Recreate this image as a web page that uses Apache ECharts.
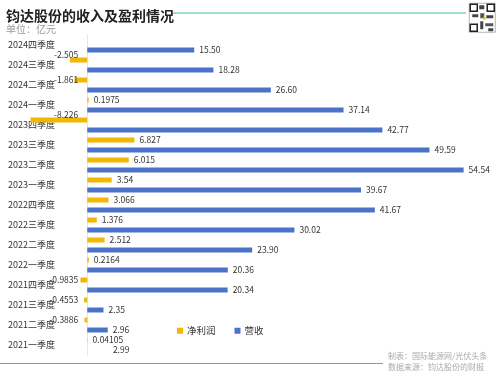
<!DOCTYPE html>
<html><head><meta charset="utf-8">
<script src="https://cdn.jsdelivr.net/npm/echarts@6/dist/echarts.min.js"></script>
<style>html,body{margin:0;padding:0;background:#fff}#c{width:500px;height:375px}</style>
</head><body><div id="c"></div>
<script>
var categories = ['2024四季度','2024三季度','2024二季度','2024一季度','2023四季度','2023三季度','2023二季度','2023一季度','2022四季度','2022三季度','2022二季度','2022一季度','2021四季度','2021三季度','2021二季度','2021一季度'];
var profit = [null, -2.505, -1.861, 0.1975, -8.226, 6.827, 6.015, 3.54, 3.066, 1.376, 2.512, 0.2164, -0.9835, -0.4553, -0.3886, 0.04105];
var profitText = ['', '-2.505', '-1.861', '0.1975', '-8.226', '6.827', '6.015', '3.54', '3.066', '1.376', '2.512', '0.2164', '-0.9835', '-0.4553', '-0.3886', '0.04105'];
var revenue = [15.50, 18.28, 26.60, 37.14, 42.77, 49.59, 54.54, 39.67, 41.67, 30.02, 23.90, 20.36, 20.34, 2.35, 2.96, 2.99];

var FONT = '"Noto Sans CJK SC","Noto Sans",sans-serif';
var YELLOW = '#f2b705', BLUE = '#4a72c8', GREEN = '#3dbf8a';

var profitData = profit.map(function (v, i) {
  if (v === null) return '-';
  var lab = v < 0
    ? { position: 'insideRight', offset: [-4, Math.abs(v) > 2 ? -5 : 0] }
    : { position: 'right' };
  lab.formatter = profitText[i];
  return { value: v, label: lab };
});
var revenueData = revenue.map(function (v, i) {
  var d = { value: v };
  if (i === revenue.length - 1) d.itemStyle = { color: 'rgba(0,0,0,0)' };
  return d;
});

var chart = echarts.init(document.getElementById('c'));
chart.setOption({
  backgroundColor: '#fff',
  animation: false,
  textStyle: { fontFamily: FONT },
  title: {
    text: '钧达股份的收入及盈利情况', left: 1, top: 4,
    textStyle: { fontSize: 14, fontWeight: 'bold', color: '#222', fontFamily: FONT },
    subtext: '单位：亿元', itemGap: 1,
    subtextStyle: { fontSize: 10, color: '#999', fontFamily: FONT }
  },
  legend: {
    left: 172, top: 321, itemWidth: 6, itemHeight: 6, itemGap: 19,
    icon: 'rect',
    textStyle: { fontSize: 9.5, color: '#333', fontFamily: FONT, padding: [0, 0, 0, -1] },
    data: ['净利润', '营收']
  },
  grid: { left: 30, right: 12.5, top: 35, bottom: 20, outerBoundsMode: 'none', containLabel: false },
  xAxis: {
    type: 'value', min: -8.3, max: 58,
    axisLine: { show: false }, axisTick: { show: false },
    axisLabel: { show: false }, splitLine: { show: false }
  },
  yAxis: {
    type: 'category', inverse: true, data: categories,
    axisLine: { show: true, onZero: true, lineStyle: { color: '#e6e6e6' } },
    axisTick: { show: false },
    axisLabel: { margin: -25, fontSize: 9, color: '#333', fontFamily: FONT, padding: [5, 0, 0, 0] }
  },
  series: [
    {
      name: '净利润', type: 'bar', data: profitData, barWidth: 5, barGap: '100%',
      itemStyle: { color: YELLOW },
      label: { show: true, fontSize: 8.5, color: '#333', distance: 5, fontFamily: FONT }
    },
    {
      name: '营收', type: 'bar', data: revenueData, barWidth: 5,
      itemStyle: { color: BLUE },
      label: { show: true, position: 'right', distance: 5, fontSize: 8.5, color: '#333', fontFamily: FONT,
        formatter: function (p) { return p.value.toFixed(2); } }
    }
  ],
  graphic: [
    { type: 'line', shape: { x1: 173, y1: 13, x2: 466, y2: 13 }, style: { stroke: GREEN, lineWidth: 1 } },
    { type: 'line', shape: { x1: 0, y1: 363.5, x2: 383, y2: 363.5 }, style: { stroke: GREEN, lineWidth: 1 } },
    { type: 'text', left: 388, top: 350, style: { text: '制表：国际能源网/光伏头条\n数据来源：钧达股份的财报', fontSize: 8, lineHeight: 11, fill: '#aaa', fontFamily: FONT } },
    { type: 'group', left: 469, top: 3, children: [
      { type: 'rect', shape: { x: 0, y: 0, width: 26, height: 29 }, style: { fill: '#fff', stroke: '#666', lineWidth: 0.5 } },
      { type: 'rect', shape: { x: 1, y: 1, width: 7, height: 7 }, style: { fill: '#fff', stroke: '#222', lineWidth: 1.5 } },
      { type: 'rect', shape: { x: 18, y: 1, width: 7, height: 7 }, style: { fill: '#fff', stroke: '#222', lineWidth: 1.5 } },
      { type: 'rect', shape: { x: 1, y: 21, width: 7, height: 7 }, style: { fill: '#fff', stroke: '#222', lineWidth: 1.5 } },
      { type: 'rect', shape: { x: 10, y: 2, width: 5, height: 4 }, style: { fill: '#444' } },
      { type: 'rect', shape: { x: 3, y: 11, width: 6, height: 3 }, style: { fill: '#444' } },
      { type: 'rect', shape: { x: 11, y: 10, width: 4, height: 5 }, style: { fill: '#555' } },
      { type: 'rect', shape: { x: 17, y: 12, width: 7, height: 3 }, style: { fill: '#444' } },
      { type: 'rect', shape: { x: 11, y: 18, width: 3, height: 8 }, style: { fill: '#444' } },
      { type: 'rect', shape: { x: 16, y: 20, width: 8, height: 3 }, style: { fill: '#555' } },
      { type: 'rect', shape: { x: 19, y: 25, width: 5, height: 3 }, style: { fill: '#444' } },
      { type: 'circle', shape: { cx: 15, cy: 15, r: 1.5 }, style: { fill: '#e8c200' } }
    ] }
  ]
});
</script></body></html>
